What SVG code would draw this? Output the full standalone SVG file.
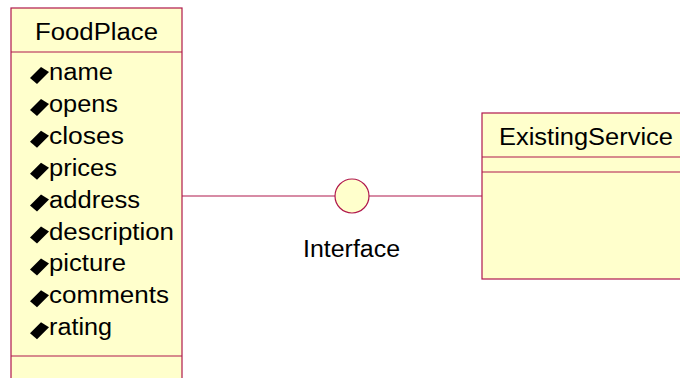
<svg xmlns="http://www.w3.org/2000/svg" width="680" height="378" viewBox="0 0 680 378">
<style>
.box{fill:#ffffcc;stroke:#b0184c;stroke-width:1.2}
.ln{stroke:#b0184c;stroke-width:1.2;fill:none}
text{font-family:"Liberation Sans",Arial,sans-serif;font-size:23px;fill:#000}
</style>
<defs>
<polygon id="dia" points="30,-2 41,-13 49,-8 37,4" fill="#000"/>
</defs>
<rect width="680" height="378" fill="#fff"/>
<g id="connectors">
<line class="ln" x1="182" y1="196" x2="335" y2="196"/>
<line class="ln" x1="369" y1="196" x2="482" y2="196"/>
</g>
<g id="interface">
<circle class="box" cx="352" cy="196" r="17"/>
<text x="303" y="257" textLength="97" lengthAdjust="spacingAndGlyphs">Interface</text>
</g>
<g id="FoodPlace">
<rect class="box" x="11" y="8" width="171" height="380"/>
<line class="ln" x1="11" y1="52" x2="182" y2="52"/>
<line class="ln" x1="11" y1="356" x2="182" y2="356"/>
<text x="35" y="40" textLength="123" lengthAdjust="spacingAndGlyphs">FoodPlace</text>
<use href="#dia" y="80"/><text x="49" y="80" textLength="64" lengthAdjust="spacingAndGlyphs">name</text>
<use href="#dia" y="111.9"/><text x="49" y="111.9" textLength="69" lengthAdjust="spacingAndGlyphs">opens</text>
<use href="#dia" y="143.8"/><text x="49" y="143.8" textLength="75" lengthAdjust="spacingAndGlyphs">closes</text>
<use href="#dia" y="175.7"/><text x="49" y="175.7" textLength="68" lengthAdjust="spacingAndGlyphs">prices</text>
<use href="#dia" y="207.6"/><text x="49" y="207.6" textLength="91" lengthAdjust="spacingAndGlyphs">address</text>
<use href="#dia" y="239.5"/><text x="49" y="239.5" textLength="125" lengthAdjust="spacingAndGlyphs">description</text>
<use href="#dia" y="271.4"/><text x="49" y="271.4" textLength="77" lengthAdjust="spacingAndGlyphs">picture</text>
<use href="#dia" y="303.3"/><text x="49" y="303.3" textLength="120" lengthAdjust="spacingAndGlyphs">comments</text>
<use href="#dia" y="335.2"/><text x="49" y="335.2" textLength="63" lengthAdjust="spacingAndGlyphs">rating</text>
</g>
<g id="ExistingService">
<rect class="box" x="482" y="113" width="210" height="166"/>
<line class="ln" x1="482" y1="157" x2="692" y2="157"/>
<line class="ln" x1="482" y1="172" x2="692" y2="172"/>
<text x="499" y="145" textLength="174" lengthAdjust="spacingAndGlyphs">ExistingService</text>
</g>
</svg>
